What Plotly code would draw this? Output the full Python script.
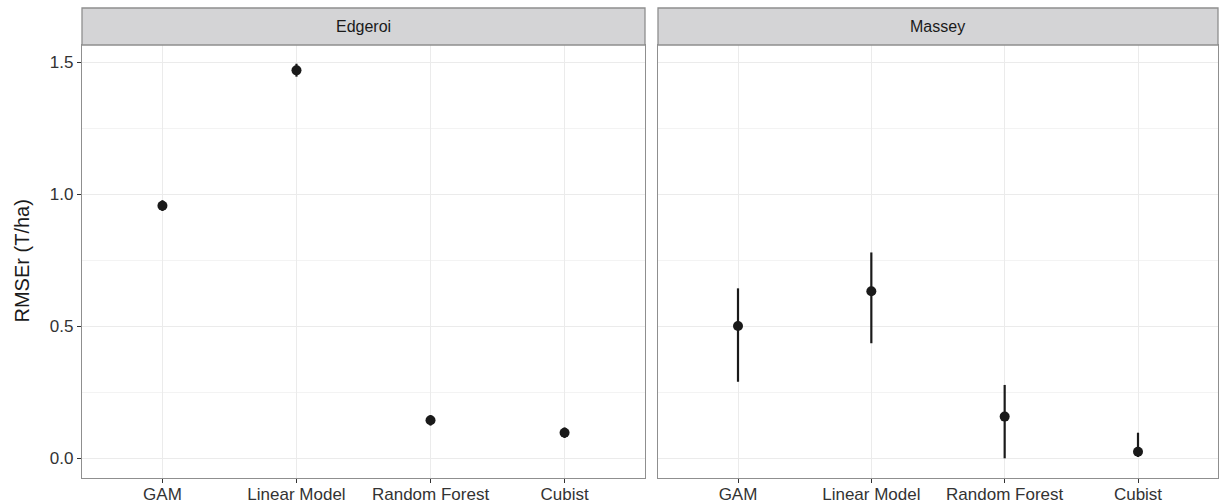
import plotly.graph_objects as go
from plotly.subplots import make_subplots

models = ["GAM", "Linear Model", "Random Forest", "Cubist"]
panels = ["Edgeroi", "Massey"]

edgeroi_mean = [0.957, 1.470, 0.144, 0.097]
edgeroi_upper = [0.978, 1.495, 0.164, 0.117]
edgeroi_lower = [0.937, 1.446, 0.124, 0.077]

massey_mean = [0.501, 0.633, 0.158, 0.025]
massey_upper = [0.644, 0.780, 0.278, 0.097]
massey_lower = [0.290, 0.436, 0.000, 0.005]

y_ticks = [0.0, 0.5, 1.0, 1.5]
y_label = "RMSEr (T/ha)"

W, H = 1219, 504
left_dom = [82 / W, 645 / W]
right_dom = [658 / W, 1218 / W]
y_dom = [(H - 478) / H, (H - 45) / H]

fig = make_subplots(rows=1, cols=2, shared_yaxes=True)

series = [(edgeroi_mean, edgeroi_upper, edgeroi_lower),
          (massey_mean, massey_upper, massey_lower)]
for i, (m, up, lo) in enumerate(series):
    fig.add_trace(go.Scatter(
        x=models, y=m, mode="markers",
        marker=dict(color="#1a1a1a", size=10),
        error_y=dict(type="data", symmetric=False,
                     array=[u - v for u, v in zip(up, m)],
                     arrayminus=[v - l for v, l in zip(m, lo)],
                     color="#1a1a1a", thickness=2.2, width=0),
        showlegend=False), row=1, col=i + 1)

grid = "#EBEBEB"
border = "#8f8f8f"
FONT = "Liberation Sans, Arial, sans-serif"
tick_font = dict(family=FONT, size=17, color="#333333")

for ax, dom in (("xaxis", left_dom), ("xaxis2", right_dom)):
    fig.layout[ax].update(
        domain=dom, type="category", range=[-0.6, 3.6], automargin=False,
        showgrid=True, gridcolor=grid, gridwidth=1,
        showline=True, mirror=True, linecolor=border, linewidth=1.3,
        ticks="outside", ticklen=4, tickcolor="#333333", tickwidth=1.3,
        tickfont=tick_font, ticklabelstandoff=-4,
        zeroline=False, fixedrange=True)

for ax in ("yaxis", "yaxis2"):
    fig.layout[ax].update(
        domain=y_dom, range=[-0.0746, 1.566], automargin=False,
        tickvals=y_ticks, ticktext=[f"{v:.1f}" for v in y_ticks],
        showgrid=True, gridcolor=grid, gridwidth=1,
        minor=dict(tickvals=[0.25, 0.75, 1.25], showgrid=True,
                   gridcolor="#F3F3F3", gridwidth=1, ticks=""),
        showline=True, mirror=True, linecolor=border, linewidth=1.3,
        zeroline=False)
fig.layout.yaxis.update(ticks="outside", ticklen=4, tickcolor="#333333",
                        tickwidth=1.3, tickfont=tick_font)
fig.layout.yaxis2.update(showticklabels=False, ticks="")

# facet strips
strip_y0 = (H - 45) / H
strip_y1 = (H - 8) / H
for dom, name in ((left_dom, panels[0]), (right_dom, panels[1])):
    fig.add_shape(type="rect", xref="paper", yref="paper",
                  x0=dom[0], x1=dom[1], y0=strip_y0, y1=strip_y1,
                  fillcolor="#D4D4D6", line=dict(color=border, width=1.3),
                  layer="above")
    fig.add_annotation(x=(dom[0] + dom[1]) / 2, y=(strip_y0 + strip_y1) / 2,
                       xref="paper", yref="paper", text=name, showarrow=False,
                       font=dict(family=FONT, size=16, color="#1a1a1a"),
                       xanchor="center", yanchor="middle")

fig.add_annotation(x=22 / W, y=(y_dom[0] + y_dom[1]) / 2, xref="paper", yref="paper",
                   text=y_label, textangle=-90, showarrow=False,
                   font=dict(family=FONT, size=20, color="#1a1a1a"),
                   xanchor="center", yanchor="middle")

fig.update_layout(width=W, height=H, margin=dict(l=0, r=0, t=0, b=0),
                  plot_bgcolor="white", paper_bgcolor="white")

fig.write_html("out.html")
